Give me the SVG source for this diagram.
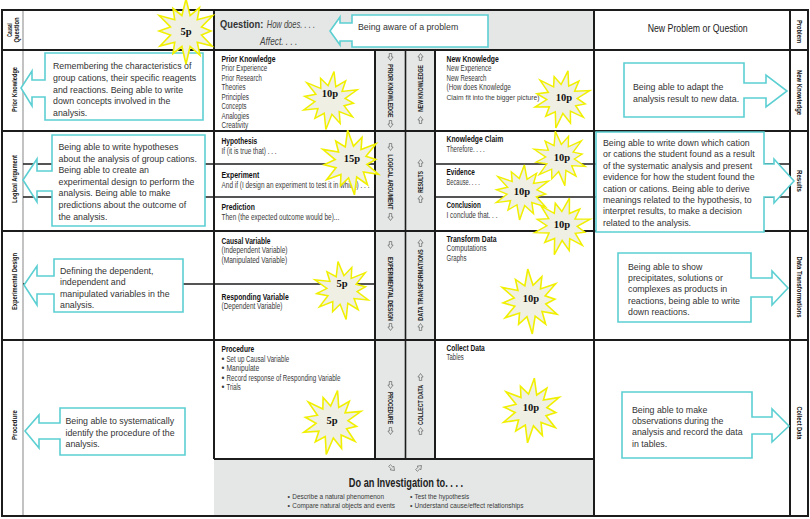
<svg xmlns="http://www.w3.org/2000/svg" xmlns:xlink="http://www.w3.org/1999/xlink" width="810" height="519" viewBox="0 0 810 519">
<defs>
<style>
.ln{stroke:#1c1c1c;stroke-width:2;fill:none}
.sl{stroke:#1c1c1c;stroke-width:1.6;fill:none}
.gl{stroke:#9a9a9a;stroke-width:1.2;fill:none}
.gray{fill:#e4e7e6}
.co{fill:#fff;stroke:#5ccfd2;stroke-width:1.6}
.ct{font-family:"Liberation Sans",Arial,sans-serif;font-size:8.8px;fill:#333}
.cell{font-family:"Liberation Sans",Arial,sans-serif;font-size:8.3px;fill:#3a3a3a}
.hd{font-weight:bold;fill:#111}
.bul{font-family:"Liberation Sans",Arial,sans-serif;font-size:7px;fill:#3a3a3a}
.st{font-family:"Liberation Sans",Arial,sans-serif;font-size:8px;font-weight:bold;fill:#222;text-anchor:middle}
.lab{font-family:"Liberation Sans",Arial,sans-serif;font-size:7.5px;font-weight:bold;fill:#111;text-anchor:middle}
.burst{fill:#efefe3;stroke:#f0f000;stroke-width:1.6}
.bt{font-family:"Liberation Serif","Times New Roman",serif;font-weight:bold;font-size:10.5px;fill:#111;text-anchor:middle}
.ar{fill:none;stroke:#666;stroke-width:0.7}
</style>
<path id="burst" d="M0,-32 L4.1,-15.5 L13.5,-23.4 L11.3,-11.3 L26.8,-15.5 L15.5,-4.1 L25,0 L15.5,4.1 L26,15 L11.3,11.3 L14,24.2 L4.1,15.5 L0,33 L-4.1,15.5 L-13,22.5 L-11.3,11.3 L-26,15 L-15.5,4.1 L-27,0 L-15.5,-4.1 L-26.8,-15.5 L-11.3,-11.3 L-13,-22.5 L-4.1,-15.5 Z"/>
<path id="dn" d="M-1.2,-3.5 H1.2 V0 H2.6 L0,3.5 L-2.6,0 H-1.2 Z"/>
</defs>
<rect width="810" height="519" fill="#fff"/>

<g id="backgrounds">
<rect class="gray" x="214" y="10" width="380" height="40"/>
<rect class="gray" x="375" y="50" width="60" height="409"/>
<rect class="gray" x="214" y="459" width="380" height="57"/>
</g>

<g id="connectors">
<line class="gl" x1="23" y1="10" x2="23" y2="516"/>
<rect class="ln" x="2" y="10" width="806" height="506"/>
<line class="ln" x1="214" y1="10" x2="214" y2="459"/>
<line class="ln" x1="375" y1="50" x2="375" y2="459"/>
<line class="sl" x1="405.5" y1="50" x2="405.5" y2="459"/>
<line class="ln" x1="435" y1="50" x2="435" y2="459"/>
<line class="ln" x1="594" y1="10" x2="594" y2="516"/>
<line class="ln" x1="790" y1="10" x2="790" y2="516"/>
<line class="ln" x1="2" y1="50" x2="808" y2="50"/>
<line class="ln" x1="2" y1="131" x2="808" y2="131"/>
<line class="ln" x1="2" y1="231" x2="808" y2="231"/>
<line class="ln" x1="2" y1="340" x2="808" y2="340"/>
<line class="ln" x1="214" y1="459" x2="594" y2="459"/>
<line class="sl" x1="23" y1="164" x2="375" y2="164"/>
<line class="sl" x1="435" y1="164" x2="790" y2="164"/>
<line class="sl" x1="23" y1="197" x2="375" y2="197"/>
<line class="sl" x1="435" y1="197" x2="790" y2="197"/>
<line class="sl" x1="23" y1="284" x2="375" y2="284"/>
</g>

<g id="side-labels">
<g transform="translate(12,30) rotate(-90)">
<text class="lab" x="0" y="0" textLength="13.3" lengthAdjust="spacingAndGlyphs">Causal</text>
<text class="lab" x="0" y="7" textLength="25" lengthAdjust="spacingAndGlyphs">Question</text>
</g>
<text class="lab" transform="translate(15,89.5) rotate(-90)" y="2" textLength="45" lengthAdjust="spacingAndGlyphs">Prior Knowledge</text>
<text class="lab" transform="translate(15,179) rotate(-90)" y="2" textLength="48" lengthAdjust="spacingAndGlyphs">Logical Argument</text>
<text class="lab" transform="translate(15,281.5) rotate(-90)" y="2" textLength="57" lengthAdjust="spacingAndGlyphs">Experimental Design</text>
<text class="lab" transform="translate(15,425) rotate(-90)" y="2" textLength="30" lengthAdjust="spacingAndGlyphs">Procedure</text>
<text class="lab" transform="translate(800,31.5) rotate(90)" y="3" textLength="23" lengthAdjust="spacingAndGlyphs">Problem</text>
<text class="lab" transform="translate(800,92.5) rotate(90)" y="3" textLength="45" lengthAdjust="spacingAndGlyphs">New Knowledge</text>
<text class="lab" transform="translate(800,181) rotate(90)" y="3" textLength="22" lengthAdjust="spacingAndGlyphs">Results</text>
<text class="lab" transform="translate(800,287) rotate(90)" y="3" textLength="61" lengthAdjust="spacingAndGlyphs">Data Transformations</text>
<text class="lab" transform="translate(800,423) rotate(90)" y="3" textLength="33" lengthAdjust="spacingAndGlyphs">Collect Data</text>
</g>

<g id="question">
<text x="220" y="28" font-family="Liberation Sans, Arial, sans-serif" font-size="11" font-weight="bold" fill="#333" textLength="43.3" lengthAdjust="spacingAndGlyphs">Question:</text>
<text x="266.7" y="28" font-family="Liberation Sans, Arial, sans-serif" font-size="11" font-style="italic" fill="#444" textLength="48.3" lengthAdjust="spacingAndGlyphs">How does. . . .</text>
<text x="260" y="45" font-family="Liberation Sans, Arial, sans-serif" font-size="11" font-style="italic" fill="#444" textLength="37.3" lengthAdjust="spacingAndGlyphs">Affect. . . .</text>
</g>
<g id="new-problem">
<text x="697.7" y="32" text-anchor="middle" font-family="Liberation Sans, Arial, sans-serif" font-size="10.5" fill="#222" textLength="100" lengthAdjust="spacingAndGlyphs">New Problem or Question</text>
</g>

<g id="cell-prior-knowledge">
<text class="cell hd" x="221.5" y="61.5" textLength="54" lengthAdjust="spacingAndGlyphs">Prior Knowledge</text>
<text class="cell" x="221.5" y="71" textLength="45.7" lengthAdjust="spacingAndGlyphs">Prior Experience</text>
<text class="cell" x="221.5" y="80.5" textLength="40.3" lengthAdjust="spacingAndGlyphs">Prior Research</text>
<text class="cell" x="221.5" y="90" textLength="24" lengthAdjust="spacingAndGlyphs">Theories</text>
<text class="cell" x="221.5" y="99.5" textLength="27.3" lengthAdjust="spacingAndGlyphs">Principles</text>
<text class="cell" x="221.5" y="109" textLength="25" lengthAdjust="spacingAndGlyphs">Concepts</text>
<text class="cell" x="221.5" y="118.5" textLength="27.7" lengthAdjust="spacingAndGlyphs">Analogies</text>
<text class="cell" x="221.5" y="127.5" textLength="26.7" lengthAdjust="spacingAndGlyphs">Creativity</text>
</g>
<g id="cell-hypothesis">
<text class="cell hd" x="221.5" y="144" textLength="35.7" lengthAdjust="spacingAndGlyphs">Hypothesis</text>
<text class="cell" x="221.5" y="153.5" textLength="55" lengthAdjust="spacingAndGlyphs">If (it is true that) . . .</text>
</g>
<g id="cell-experiment">
<text class="cell hd" x="221.5" y="177.5" textLength="37.7" lengthAdjust="spacingAndGlyphs">Experiment</text>
<text class="cell" x="221.5" y="188" textLength="148" lengthAdjust="spacingAndGlyphs">And if (I design an experiment to test it in which) . . .</text>
</g>
<g id="cell-prediction">
<text class="cell hd" x="221.5" y="210" textLength="33.3" lengthAdjust="spacingAndGlyphs">Prediction</text>
<text class="cell" x="221.5" y="220" textLength="117.7" lengthAdjust="spacingAndGlyphs">Then (the expected outcome would be)...</text>
</g>
<g id="cell-causal-variable">
<text class="cell hd" x="221.5" y="244" textLength="49" lengthAdjust="spacingAndGlyphs">Causal Variable</text>
<text class="cell" x="221.5" y="253" textLength="66" lengthAdjust="spacingAndGlyphs">(Independent Variable)</text>
<text class="cell" x="221.5" y="262.5" textLength="65.7" lengthAdjust="spacingAndGlyphs">(Manipulated Variable)</text>
</g>
<g id="cell-responding-variable">
<text class="cell hd" x="221.5" y="300" textLength="67.3" lengthAdjust="spacingAndGlyphs">Responding Variable</text>
<text class="cell" x="221.5" y="309" textLength="61" lengthAdjust="spacingAndGlyphs">(Dependent Variable)</text>
</g>
<g id="cell-procedure">
<text class="cell hd" x="221.5" y="351.5" textLength="32.7" lengthAdjust="spacingAndGlyphs">Procedure</text>
<text class="cell" x="221.5" y="361.5">•</text>
<text class="cell" x="226.5" y="361.5" textLength="62.7" lengthAdjust="spacingAndGlyphs">Set up Causal Variable</text>
<text class="cell" x="221.5" y="371">•</text>
<text class="cell" x="226.5" y="371" textLength="32.7" lengthAdjust="spacingAndGlyphs">Manipulate</text>
<text class="cell" x="221.5" y="380.5">•</text>
<text class="cell" x="226.5" y="380.5" textLength="114" lengthAdjust="spacingAndGlyphs">Record response of Responding Variable</text>
<text class="cell" x="221.5" y="390">•</text>
<text class="cell" x="226.5" y="390" textLength="14.3" lengthAdjust="spacingAndGlyphs">Trials</text>
</g>

<g id="cell-new-knowledge">
<text class="cell hd" x="446.5" y="61.5" textLength="52.3" lengthAdjust="spacingAndGlyphs">New Knowledge</text>
<text class="cell" x="446.5" y="71" textLength="45" lengthAdjust="spacingAndGlyphs">New Experience</text>
<text class="cell" x="446.5" y="80.5" textLength="40" lengthAdjust="spacingAndGlyphs">New Research</text>
<text class="cell" x="446.5" y="90" textLength="64.3" lengthAdjust="spacingAndGlyphs">(How does Knowledge</text>
<text class="cell" x="446.5" y="99.5" style="font-size:7.2px" textLength="93" lengthAdjust="spacingAndGlyphs">Claim fit into the bigger picture)</text>
</g>
<g id="cell-knowledge-claim">
<text class="cell hd" x="446.5" y="142" textLength="56.7" lengthAdjust="spacingAndGlyphs">Knowledge Claim</text>
<text class="cell" x="446.5" y="152" textLength="38.3" lengthAdjust="spacingAndGlyphs">Therefore. . . .</text>
</g>
<g id="cell-evidence">
<text class="cell hd" x="446.5" y="175" textLength="28.3" lengthAdjust="spacingAndGlyphs">Evidence</text>
<text class="cell" x="446.5" y="185" textLength="33.3" lengthAdjust="spacingAndGlyphs">Because. . . .</text>
</g>
<g id="cell-conclusion">
<text class="cell hd" x="446.5" y="208" textLength="34.3" lengthAdjust="spacingAndGlyphs">Conclusion</text>
<text class="cell" x="446.5" y="218" textLength="51" lengthAdjust="spacingAndGlyphs">I conclude that. . .</text>
</g>
<g id="cell-transform-data">
<text class="cell hd" x="446.5" y="241.5" textLength="50" lengthAdjust="spacingAndGlyphs">Transform Data</text>
<text class="cell" x="446.5" y="251" textLength="40" lengthAdjust="spacingAndGlyphs">Computations</text>
<text class="cell" x="446.5" y="260.5" textLength="20" lengthAdjust="spacingAndGlyphs">Graphs</text>
</g>
<g id="cell-collect-data">
<text class="cell hd" x="446.5" y="351" textLength="38.3" lengthAdjust="spacingAndGlyphs">Collect Data</text>
<text class="cell" x="446.5" y="360" textLength="17.3" lengthAdjust="spacingAndGlyphs">Tables</text>
</g>

<g id="strip-down">
<text class="st" transform="translate(390.5,91) rotate(90)" y="2.9" textLength="53.3" lengthAdjust="spacingAndGlyphs">PRIOR KNOWLEDGE</text>
<text class="st" transform="translate(390.5,182) rotate(90)" y="2.9" textLength="55" lengthAdjust="spacingAndGlyphs">LOGICAL ARGUMENT</text>
<text class="st" transform="translate(390.5,289) rotate(90)" y="2.9" textLength="64" lengthAdjust="spacingAndGlyphs">EXPERIMENTAL DESIGN</text>
<text class="st" transform="translate(390.5,408) rotate(90)" y="2.9" textLength="32" lengthAdjust="spacingAndGlyphs">PROCEDURE</text>
<use href="#dn" class="ar" x="390.5" y="57"/>
<use href="#dn" class="ar" x="390.5" y="124"/>
<use href="#dn" class="ar" x="390.5" y="147"/>
<use href="#dn" class="ar" x="390.5" y="217"/>
<use href="#dn" class="ar" x="390.5" y="245"/>
<use href="#dn" class="ar" x="390.5" y="327"/>
<use href="#dn" class="ar" x="390.5" y="385"/>
<use href="#dn" class="ar" x="390.5" y="431"/>
</g>
<g id="strip-up">
<text class="st" transform="translate(420.5,88.5) rotate(-90)" y="2.9" textLength="46.7" lengthAdjust="spacingAndGlyphs">NEW KNOWLEDGE</text>
<text class="st" transform="translate(420.5,182) rotate(-90)" y="2.9" textLength="21.7" lengthAdjust="spacingAndGlyphs">RESULTS</text>
<text class="st" transform="translate(420.5,285) rotate(-90)" y="2.9" textLength="71.3" lengthAdjust="spacingAndGlyphs">DATA TRANSFORMATIONS</text>
<text class="st" transform="translate(420.5,405) rotate(-90)" y="2.9" textLength="40" lengthAdjust="spacingAndGlyphs">COLLECT DATA</text>
<use href="#dn" class="ar" transform="translate(420.5,57) rotate(180)"/>
<use href="#dn" class="ar" transform="translate(420.5,120) rotate(180)"/>
<use href="#dn" class="ar" transform="translate(420.5,163) rotate(180)"/>
<use href="#dn" class="ar" transform="translate(420.5,199) rotate(180)"/>
<use href="#dn" class="ar" transform="translate(420.5,243) rotate(180)"/>
<use href="#dn" class="ar" transform="translate(420.5,327) rotate(180)"/>
<use href="#dn" class="ar" transform="translate(420.5,377) rotate(180)"/>
<use href="#dn" class="ar" transform="translate(420.5,431) rotate(180)"/>
</g>

<g id="investigation">
<use href="#dn" class="ar" transform="translate(392,468) rotate(-45)"/>
<use href="#dn" class="ar" transform="translate(419,468) rotate(-135)"/>
<text x="406" y="487" text-anchor="middle" font-family="Liberation Sans, Arial, sans-serif" font-size="12" font-weight="bold" fill="#222" textLength="114.3" lengthAdjust="spacingAndGlyphs">Do an Investigation to. . . .</text>
<text class="bul" x="287.5" y="498.5">•</text>
<text class="bul" x="292.3" y="498.5" textLength="91.7" lengthAdjust="spacingAndGlyphs">Describe a natural phenomenon</text>
<text class="bul" x="287.5" y="508">•</text>
<text class="bul" x="292.3" y="508" textLength="102.7" lengthAdjust="spacingAndGlyphs">Compare natural objects and events</text>
<text class="bul" x="410" y="498.5">•</text>
<text class="bul" x="414.5" y="498.5" textLength="54.7" lengthAdjust="spacingAndGlyphs">Test the hypothesis</text>
<text class="bul" x="410" y="508">•</text>
<text class="bul" x="414.5" y="508" textLength="109" lengthAdjust="spacingAndGlyphs">Understand cause/effect relationships</text>
</g>

<g id="callout-problem">
<path class="co" d="M352,15 H488 V47 H352 V41 H340 V45 L330,31 L340,17 V23 H352 Z"/>
<text class="ct" x="358" y="29.5">Being aware of a problem</text>
</g>
<g id="callout-prior-knowledge">
<path class="co" d="M45,53 H203 V120 H45 V97 H32 V106 L21,88 L32,71 V80 H45 Z"/>
<text class="ct" x="53" y="69">Remembering the characteristics of</text>
<text class="ct" x="53" y="80.8">group cations, their specific reagents</text>
<text class="ct" x="53" y="92.6">and reactions. Being able to write</text>
<text class="ct" x="53" y="104.4">down concepts involved in the</text>
<text class="ct" x="53" y="116.2">analysis.</text>
</g>
<g id="callout-logical-argument">
<path class="co" d="M52,135 H205 V226 H52 V191 H37 V202 L23,180 L37,159 V171 H52 Z"/>
<text class="ct" x="58.5" y="150">Being able to write hypotheses</text>
<text class="ct" x="58.5" y="161.6">about the analysis of group cations.</text>
<text class="ct" x="58.5" y="173.2">Being able to create an</text>
<text class="ct" x="58.5" y="184.8">experimental design to perform the</text>
<text class="ct" x="58.5" y="196.4">analysis. Being able to make</text>
<text class="ct" x="58.5" y="208">predictions about the outcome of</text>
<text class="ct" x="58.5" y="219.6">the analysis.</text>
</g>
<g id="callout-experimental-design">
<path class="co" d="M54,259 H183 V312 H54 V294 H37 V305 L24,285 L37,266 V276 H54 Z"/>
<text class="ct" x="60" y="273.5">Defining the dependent,</text>
<text class="ct" x="60" y="285">independent and</text>
<text class="ct" x="60" y="296.5">manipulated variables in the</text>
<text class="ct" x="60" y="308">analysis.</text>
</g>
<g id="callout-procedure">
<path class="co" d="M60,408 H185 V455 H60 V439 H39 V448 L25,431 L39,415 V423 H60 Z"/>
<text class="ct" x="65.5" y="424">Being able to systematically</text>
<text class="ct" x="65.5" y="435.5">identify the procedure of the</text>
<text class="ct" x="65.5" y="447">analysis.</text>
</g>
<g id="callout-new-knowledge">
<path class="co" d="M624,63 H744 V83 H766 V75 L787,91 L766,107 V98 H744 V117 H624 Z"/>
<text class="ct" x="633" y="89.5">Being able to adapt the</text>
<text class="ct" x="633" y="101.5">analysis result to new data.</text>
</g>
<g id="callout-results">
<path class="co" d="M596,132 H764 V164 H774 V159 L794,181 L774,203 V197 H764 V232 H596 Z"/>
<text class="ct" x="603" y="146">Being able to write down which cation</text>
<text class="ct" x="603" y="157.4">or cations the student  found as a result</text>
<text class="ct" x="603" y="168.8">of the systematic analysis and  present</text>
<text class="ct" x="603" y="180.2">evidence for how the student found the</text>
<text class="ct" x="603" y="191.6">cation or cations. Being able to derive</text>
<text class="ct" x="603" y="203">meanings related to the hypothesis, to</text>
<text class="ct" x="603" y="214.4">interpret results, to make  a decision</text>
<text class="ct" x="603" y="225.8">related to the analysis.</text>
</g>
<g id="callout-data-transformations">
<path class="co" d="M618,253 H751 V278 H772 V271 L788,288 L772,305 V297 H751 V322 H618 Z"/>
<text class="ct" x="628" y="269.5">Being able to show</text>
<text class="ct" x="628" y="281">precipitates, solutions or</text>
<text class="ct" x="628" y="292.3">complexes as products in</text>
<text class="ct" x="628" y="303.6">reactions, being able to write</text>
<text class="ct" x="628" y="315">down reactions.</text>
</g>
<g id="callout-collect-data">
<path class="co" d="M622,392 H752 V417 H772 V409 L789,426 L772,442 V434 H752 V458 H622 Z"/>
<text class="ct" x="632" y="412.5">Being able to make</text>
<text class="ct" x="632" y="423.8">observations during the</text>
<text class="ct" x="632" y="435">analysis and record the  data</text>
<text class="ct" x="632" y="446.5">in tables.</text>
</g>

<g id="stars">
<g id="star-question"><use href="#burst" class="burst" transform="translate(186,31)"/><text class="bt" x="186" y="35">5p</text></g>
<g id="star-prior-knowledge"><use href="#burst" class="burst" transform="translate(330,100) rotate(8) scale(0.95,0.9)"/><text class="bt" x="330" y="97">10p</text></g>
<g id="star-logical"><use href="#burst" class="burst" transform="translate(351,162) rotate(-6)"/><text class="bt" x="352" y="162">15p</text></g>
<g id="star-new-knowledge"><use href="#burst" class="burst" transform="translate(562,99) rotate(12) scale(0.95,0.9)"/><text class="bt" x="564" y="101">10p</text></g>
<g id="star-claim"><use href="#burst" class="burst" transform="translate(560,158) rotate(-10) scale(0.9,0.85)"/><text class="bt" x="562" y="160.5">10p</text></g>
<g id="star-evidence"><use href="#burst" class="burst" transform="translate(522,192) rotate(5) scale(0.95,0.85)"/><text class="bt" x="522" y="194.5">10p</text></g>
<g id="star-conclusion"><use href="#burst" class="burst" transform="translate(562,226) rotate(15) scale(0.95,0.9)"/><text class="bt" x="562" y="227.5">10p</text></g>
<g id="star-design"><use href="#burst" class="burst" transform="translate(342,290) rotate(-8) scale(0.95,0.9)"/><text class="bt" x="342" y="286.5">5p</text></g>
<g id="star-procedure"><use href="#burst" class="burst" transform="translate(332,422) rotate(10)"/><text class="bt" x="332" y="423.5">5p</text></g>
<g id="star-transform"><use href="#burst" class="burst" transform="translate(530,301) rotate(-4)"/><text class="bt" x="531" y="301.5">10p</text></g>
<g id="star-collect"><use href="#burst" class="burst" transform="translate(531,410) rotate(6)"/><text class="bt" x="531" y="411">10p</text></g>
</g>
</svg>
